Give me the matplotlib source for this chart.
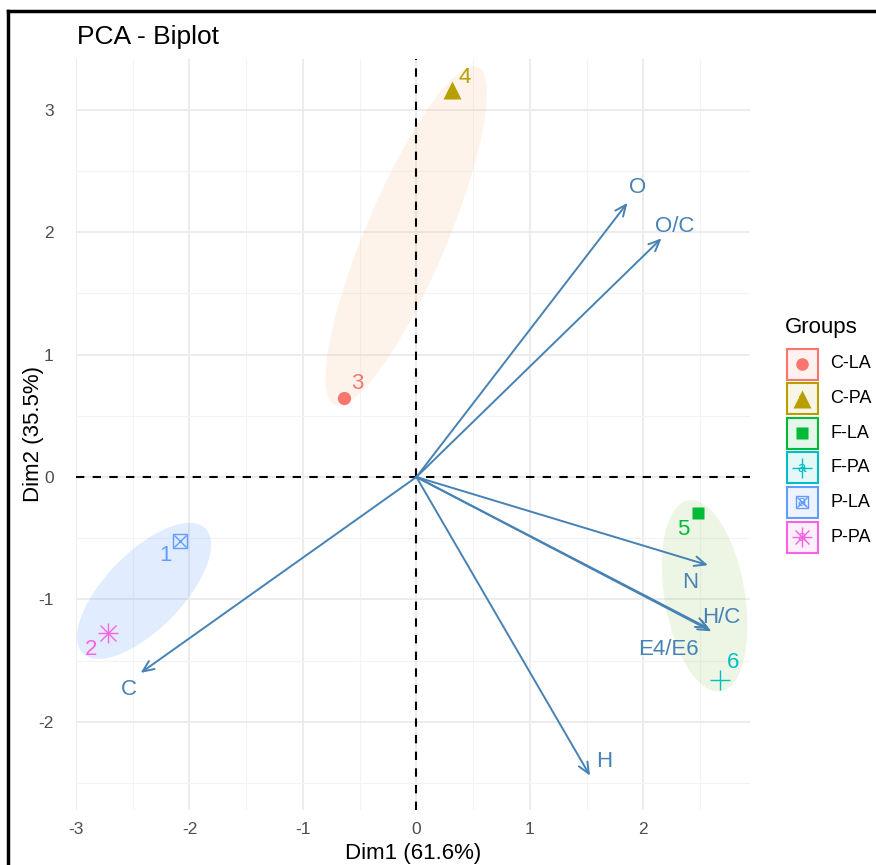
import numpy as np
import matplotlib
matplotlib.use("Agg")
import matplotlib.pyplot as plt
from matplotlib.patches import Polygon, Rectangle
from matplotlib.lines import Line2D

plt.rcParams['font.family'] = ['Liberation Sans', 'DejaVu Sans']
plt.rcParams['axes.unicode_minus'] = False

# Individuals (scores on Dim1 / Dim2)
groups = ['C-LA', 'C-PA', 'F-LA', 'F-PA', 'P-LA', 'P-PA']
ind_labels = ['3', '4', '5', '6', '1', '2']
ind_dim1 = [-0.64, 0.31, 2.48, 2.68, -2.08, -2.72]
ind_dim2 = [0.645, 3.16, -0.29, -1.66, -0.52, -1.27]

# Variables (arrows)
var_names = ['O', 'O/C', 'N', 'H/C', 'E4/E6', 'H', 'C']
var_dim1 = [1.86, 2.16, 2.57, 2.60, 2.58, 1.53, -2.43]
var_dim2 = [2.24, 1.95, -0.72, -1.26, -1.24, -2.44, -1.60]

# Ellipses: centre, half major axis vector, half minor axis vector
ell_cx = [-0.09, 2.54, -2.40]
ell_cy = [1.97, -0.97, -0.93]
ell_major = [(0.63, 1.38), (0.14, -0.78), (0.54, 0.51)]
ell_minor = [(0.33, -0.13), (0.35, 0.05), (0.24, -0.22)]

# styles
group_colors = ['#F8766D', '#B79F00', '#00BA38', '#00BFC4', '#619CFF', '#F564E3']
ell_colors = ['#F4A460', '#8BC34A', '#619CFF']
ell_alpha = [0.12, 0.15, 0.19]
arrow_color = '#4682B4'
ind_offsets = [(14, 15), (13, 13), (-15, -17), (13, 18), (-15, -15), (-17, -17)]
var_offsets = [(10, 15), (13, 12), (-18, -17), (10, 14), (-41, -21), (14, 14), (-12, -17)]

W, H = 876, 865
fig = plt.figure(figsize=(W / 100, H / 100), dpi=100)
ax = fig.add_axes([76 / W, 1 - 810 / H, 674 / W, 751 / H])
ax.set_xlim(-2.993, 2.94)
ax.set_ylim(-2.72, 3.415)

for s in ax.spines.values():
    s.set_visible(False)
ax.set_xticks([-3, -2, -1, 0, 1, 2])
ax.set_yticks([-2, -1, 0, 1, 2, 3])
ax.set_xticks(np.arange(-2.5, 3, 1.0), minor=True)
ax.set_yticks(np.arange(-2.5, 3.5, 1.0), minor=True)
ax.grid(True, which='major', color='#EBEBEB', lw=1.3)
ax.grid(True, which='minor', color='#F3F3F3', lw=0.8)
ax.set_axisbelow(True)
ax.tick_params(which='both', length=0, labelsize=12.5, labelcolor='#4D4D4D')
ax.tick_params(axis='x', pad=9)
ax.tick_params(axis='y', pad=16)


def draw_marker(a, x, y, g, k=1.0, zorder=4):
    c = group_colors[g]
    if g == 0:
        a.plot(x, y, 'o', ms=9.5 * k, color=c, mec='none', zorder=zorder)
    elif g == 1:
        a.plot(x, y, '^', ms=13 * k, color=c, mec='none', zorder=zorder)
    elif g == 2:
        a.plot(x, y, 's', ms=9 * k, color=c, mec='none', zorder=zorder)
    elif g == 3:
        a.plot(x, y, '+', ms=15 * k, color=c, mew=1.0, zorder=zorder)
    elif g == 4:
        a.plot(x, y, 's', ms=9.5 * k, mfc='none', mec=c, mew=1.0, zorder=zorder)
        a.plot(x, y, 'x', ms=8 * k, color=c, mew=1.0, zorder=zorder)
    else:
        a.plot(x, y, '+', ms=15 * k, color=c, mew=1.0, zorder=zorder)
        a.plot(x, y, 'x', ms=11 * k, color=c, mew=1.0, zorder=zorder)


# ellipses
t = np.linspace(0, 2 * np.pi, 200)
for i in range(len(ell_cx)):
    ex = ell_cx[i] + ell_major[i][0] * np.cos(t) + ell_minor[i][0] * np.sin(t)
    ey = ell_cy[i] + ell_major[i][1] * np.cos(t) + ell_minor[i][1] * np.sin(t)
    ax.add_patch(Polygon(np.column_stack([ex, ey]), closed=True,
                         facecolor=ell_colors[i], alpha=ell_alpha[i],
                         edgecolor='none', zorder=1))

# reference lines
ax.axhline(0, color='black', lw=1.5, ls=(0, (4, 4)), zorder=2)
ax.axvline(0, color='black', lw=1.5, ls=(0, (4, 4)), zorder=2)

# variable arrows
for i, name in enumerate(var_names):
    ax.annotate('', xy=(var_dim1[i], var_dim2[i]), xytext=(0, 0),
                arrowprops=dict(arrowstyle='->,head_length=0.8,head_width=0.35',
                                color=arrow_color, lw=1.4,
                                shrinkA=0, shrinkB=0), zorder=3)
    ax.annotate(name, xy=(var_dim1[i], var_dim2[i]), xytext=var_offsets[i],
                textcoords='offset pixels', ha='center', va='center',
                fontsize=16, color=arrow_color, zorder=5)

# individuals
for i, g in enumerate(groups):
    draw_marker(ax, ind_dim1[i], ind_dim2[i], i)
    ax.annotate(ind_labels[i], xy=(ind_dim1[i], ind_dim2[i]), xytext=ind_offsets[i],
                textcoords='offset pixels', ha='center', va='center',
                fontsize=16, color=group_colors[i], zorder=5)

ax.set_xlabel('Dim1 (61.6%)', fontsize=16, labelpad=4)
ax.set_ylabel('Dim2 (35.5%)', fontsize=16, labelpad=-4)

fig.text(77 / W, 1 - 37 / H, 'PCA - Biplot', fontsize=19, ha='left', va='center')

# legend drawn in pixel space
leg = fig.add_axes([780 / W, 1 - 570 / H, 96 / W, 270 / H])
leg.set_xlim(780, 876)
leg.set_ylim(570, 300)
leg.axis('off')
leg.text(785, 328, 'Groups', fontsize=16, ha='left', va='center')
for i, g in enumerate(groups):
    yc = 364 + i * 34.6
    leg.add_patch(Rectangle((786.5, yc - 15.5), 31, 31, facecolor=group_colors[i],
                            alpha=0.1, edgecolor='none'))
    leg.add_patch(Rectangle((786.5, yc - 15.5), 31, 31, facecolor='none',
                            edgecolor=group_colors[i], lw=1.5))
    leg.text(802, yc, 'a', fontsize=11, color=group_colors[i],
             ha='center', va='center', zorder=3)
    draw_marker(leg, 802, yc, i, k=0.95, zorder=4)
    leg.text(830, yc, g, fontsize=13, ha='left', va='center')

# frame lines of the original figure
fig.add_artist(Line2D([8 / W, 1], [1 - 11 / H, 1 - 11 / H], color='black', lw=2.5))
fig.add_artist(Line2D([8 / W, 8 / W], [0, 1 - 11 / H], color='black', lw=2.5))

fig.savefig('out.png', dpi=100)
